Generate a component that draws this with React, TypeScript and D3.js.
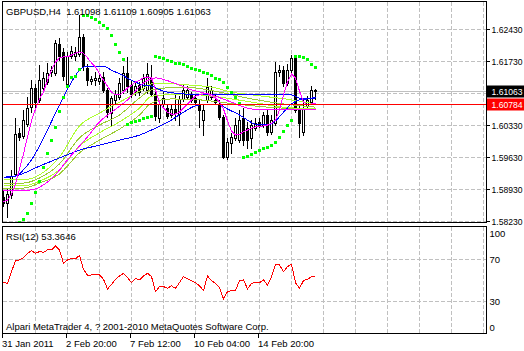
import React from "react"
import * as d3 from "d3"

// GBPUSD H4 candles
const opens = [
  1.5876, 1.5862, 1.5880, 1.5926, 1.6016, 1.6009, 1.6035, 1.6072, 1.6114, 1.6088,
  1.6114, 1.6127, 1.6149, 1.6147, 1.6210, 1.6193, 1.6123, 1.6184, 1.6184, 1.6188,
  1.6226, 1.6158, 1.6129, 1.6131, 1.6129, 1.6138, 1.6110, 1.6059, 1.6088, 1.6094,
  1.6110, 1.6147, 1.6120, 1.6105, 1.6120, 1.6114, 1.6110, 1.6136, 1.6101, 1.6048,
  1.6079, 1.6070, 1.6055, 1.6068, 1.6057, 1.6090, 1.6094, 1.6099, 1.6092, 1.6079,
  1.6044, 1.6088, 1.6094, 1.6088, 1.6077, 1.6050, 1.5963, 1.5994, 1.6005, 1.6000,
  1.6048, 1.6026, 1.6005, 1.6026, 1.6040, 1.6033, 1.6055, 1.6018, 1.6037, 1.6149,
  1.6153, 1.6125, 1.6153, 1.6180, 1.6066, 1.6018, 1.6075, 1.6083, 1.61098,
]
const highs = [
  1.5891, 1.5895, 1.5935, 1.6048, 1.6026, 1.6066, 1.6094, 1.6131, 1.6123, 1.6164,
  1.6149, 1.6169, 1.6162, 1.6219, 1.6223, 1.6201, 1.6193, 1.6206, 1.6204, 1.6273,
  1.6232, 1.6166, 1.6140, 1.6149, 1.6142, 1.6149, 1.6114, 1.6096, 1.6110, 1.6136,
  1.6162, 1.6182, 1.6131, 1.6127, 1.6127, 1.6145, 1.6169, 1.6164, 1.6110, 1.6088,
  1.6105, 1.6079, 1.6077, 1.6103, 1.6096, 1.6120, 1.6118, 1.6105, 1.6099, 1.6088,
  1.6077, 1.6136, 1.6118, 1.6099, 1.6088, 1.6055, 1.6005, 1.6016, 1.6048, 1.6066,
  1.6070, 1.6040, 1.6044, 1.6048, 1.6048, 1.6061, 1.6066, 1.6055, 1.6171, 1.6164,
  1.6162, 1.6166, 1.6186, 1.6186, 1.6077, 1.6088, 1.6096, 1.6118, 1.61109,
]
const lows = [
  1.5856, 1.5832, 1.5873, 1.5921, 1.6000, 1.6005, 1.6031, 1.6061, 1.6072, 1.6083,
  1.6105, 1.6123, 1.6140, 1.6142, 1.6175, 1.6131, 1.6116, 1.6180, 1.6175, 1.6184,
  1.6153, 1.6120, 1.6123, 1.6120, 1.6123, 1.6105, 1.6050, 1.6033, 1.6079, 1.6090,
  1.6103, 1.6105, 1.6094, 1.6099, 1.6099, 1.6110, 1.6103, 1.6096, 1.6044, 1.6040,
  1.6070, 1.6048, 1.6050, 1.6044, 1.6033, 1.6085, 1.6092, 1.6083, 1.6079, 1.6029,
  1.6011, 1.6083, 1.6090, 1.6081, 1.6046, 1.5961, 1.5959, 1.5972, 1.6000, 1.5996,
  1.5989, 1.5983, 1.5983, 1.6022, 1.6029, 1.6029, 1.6011, 1.6013, 1.6033, 1.6140,
  1.6118, 1.6120, 1.6149, 1.6061, 1.6007, 1.6011, 1.6070, 1.6079, 1.60905,
]
const closes = [
  1.5862, 1.5882, 1.5921, 1.6013, 1.6007, 1.6044, 1.6070, 1.6114, 1.6083, 1.6131,
  1.6136, 1.6147, 1.6153, 1.6212, 1.6184, 1.6140, 1.6184, 1.6195, 1.6193, 1.6226,
  1.6162, 1.6131, 1.6134, 1.6136, 1.6136, 1.6110, 1.6061, 1.6092, 1.6101, 1.6125,
  1.6147, 1.6118, 1.6101, 1.6118, 1.6105, 1.6136, 1.6145, 1.6101, 1.6053, 1.6079,
  1.6092, 1.6053, 1.6068, 1.6059, 1.6090, 1.6110, 1.6110, 1.6088, 1.6083, 1.6066,
  1.6066, 1.6116, 1.6110, 1.6083, 1.6050, 1.5963, 1.5996, 1.6007, 1.6033, 1.6044,
  1.6000, 1.6000, 1.6033, 1.6037, 1.6033, 1.6055, 1.6018, 1.6044, 1.6149, 1.6153,
  1.6125, 1.6153, 1.6180, 1.6066, 1.6037, 1.6070, 1.6088, 1.6110, 1.61063,
]

// parabolic SAR (null = not on screen)
const sar: (number | null)[] = [
  null, null, null, null, 1.5821, 1.5827, 1.5840, 1.5862, 1.5886, 1.5910,
  1.5941, 1.5972, 1.6000, 1.6029, 1.6064, 1.6094, 1.6118, 1.6138, 1.6140, 1.6156,
  1.6273, 1.6273, 1.6269, 1.6265, 1.6258, 1.6252, 1.6245, 1.6230, 1.6210, 1.6193,
  1.6177, 1.6035, 1.6040, 1.6042, 1.6044, 1.6048, 1.6050, 1.6053, 1.6184, 1.6182,
  1.6180, 1.6175, 1.6173, 1.6169, 1.6169, 1.6166, 1.6162, 1.6158, 1.6156, 1.6153,
  1.6149, 1.6147, 1.6142, 1.6136, 1.6134, 1.6127, 1.6116, 1.6105, 1.6094, 1.6081,
  1.5963, 1.5965, 1.5970, 1.5974, 1.5978, 1.5983, 1.5985, 1.5989, 1.5996, 1.6007,
  1.6020, 1.6033, 1.6044, 1.6184, 1.6184, 1.6182, 1.6177, 1.6166, 1.6160,
]

// fast magenta MA, one value per bar
const magentaFast = [
  1.5865, 1.5869, 1.5882, 1.5904, 1.5937, 1.5970, 1.6007, 1.6042, 1.6068, 1.6090,
  1.6105, 1.6131, 1.6153, 1.6171, 1.6180, 1.6182, 1.6182, 1.6186, 1.6190, 1.6193,
  1.6190, 1.6180, 1.6169, 1.6160, 1.6145, 1.6131, 1.6118, 1.6105, 1.6099, 1.6099,
  1.6105, 1.6114, 1.6120, 1.6127, 1.6131, 1.6136, 1.6138, 1.6136, 1.6110, 1.6081,
  1.6070, 1.6061, 1.6057, 1.6057, 1.6061, 1.6070, 1.6079, 1.6088, 1.6096, 1.6099,
  1.6101, 1.6101, 1.6096, 1.6092, 1.6083, 1.6068, 1.6042, 1.6020, 1.6011, 1.6013,
  1.6018, 1.6022, 1.6026, 1.6029, 1.6029, 1.6031, 1.6033, 1.6037, 1.6044, 1.6066,
  1.6099, 1.6127, 1.6145, 1.6136, 1.6107, 1.6083, 1.6077, 1.6079, 1.6079,
]

// slower lines, sampled as [bar, price]
const magentaSlow: [number, number][] = [
  [0, 1.5889], [7, 1.5891], [10, 1.5902], [13, 1.5924], [16, 1.5957], [19, 1.5987],
  [21, 1.6007], [24, 1.6040], [27, 1.6061], [31, 1.6088], [35, 1.6125], [38, 1.6136],
  [42, 1.6127], [47, 1.6110], [52, 1.6099], [57, 1.6083], [62, 1.6068], [67, 1.6066],
  [72, 1.6068], [76, 1.6068], [78, 1.6066],
]
const blueMid: [number, number][] = [
  [0, 1.5919], [3, 1.5921], [5, 1.5935], [7, 1.5957], [9, 1.5987], [11, 1.6022],
  [13, 1.6059], [15, 1.6094], [17, 1.6127], [19, 1.6153], [21, 1.6162], [25, 1.6162],
  [27, 1.6153], [29, 1.6145], [32, 1.6131], [35, 1.6120], [37, 1.6118], [40, 1.6107],
  [45, 1.6101], [50, 1.6099], [60, 1.6099], [72, 1.6099], [74, 1.6092], [78, 1.6090],
]
const blueSlow: [number, number][] = [
  [0, 1.5917], [4, 1.5924], [9, 1.5943], [14, 1.5961], [19, 1.5978], [24, 1.5989],
  [29, 1.6000], [34, 1.6011], [37, 1.6022], [42, 1.6044], [45, 1.6061], [49, 1.6077],
  [54, 1.6077], [56, 1.6068], [59, 1.6055], [63, 1.6035], [66, 1.6033], [68, 1.6042],
  [70, 1.6061], [72, 1.6079], [74, 1.6088], [76, 1.6090], [78, 1.6094],
]
const lime1: [number, number][] = [
  [0, 1.5913], [5, 1.5913], [9, 1.5924], [14, 1.5963], [19, 1.6031], [24, 1.6059],
  [29, 1.6083], [34, 1.6107], [37, 1.6123], [42, 1.6123], [47, 1.6120], [52, 1.6116],
  [57, 1.6105], [62, 1.6099], [72, 1.6088], [78, 1.6079],
]
const lime2: [number, number][] = [
  [0, 1.5906], [5, 1.5906], [9, 1.5917], [14, 1.5948], [19, 1.6005], [24, 1.6033],
  [29, 1.6055], [34, 1.6092], [37, 1.6110], [45, 1.6116], [54, 1.6105], [62, 1.6090],
  [70, 1.6079], [78, 1.6072],
]
const lime3: [number, number][] = [
  [0, 1.5900], [5, 1.5900], [9, 1.5910], [14, 1.5935], [19, 1.5987], [24, 1.6016],
  [29, 1.6040], [34, 1.6070], [37, 1.6096], [45, 1.6101], [54, 1.6094], [62, 1.6083],
  [70, 1.6072], [78, 1.6068],
]
const lime4: [number, number][] = [
  [0, 1.5893], [5, 1.5895], [9, 1.5906], [14, 1.5926], [19, 1.5972], [24, 1.6000],
  [29, 1.6024], [34, 1.6055], [37, 1.6081], [42, 1.6090], [49, 1.6088], [58, 1.6079],
  [66, 1.6072], [74, 1.6068], [78, 1.6066],
]

// RSI(12)
const rsi = [
  47.9, 47.0, 58.2, 68.7, 69.4, 71.6, 75.8, 78.3, 75.8, 77.4,
  76.7, 79.0, 79.0, 82.8, 79.0, 66.2, 69.4, 71.0, 70.3, 73.8,
  60.4, 54.6, 55.0, 55.0, 55.0, 50.8, 41.6, 46.0, 50.8, 54.0,
  56.6, 52.4, 47.6, 51.8, 50.2, 54.0, 56.6, 53.4, 39.0, 43.8,
  43.8, 42.2, 44.5, 42.2, 47.6, 53.4, 51.5, 49.6, 47.6, 44.5,
  40.0, 54.0, 49.6, 47.0, 42.9, 32.0, 39.0, 40.0, 40.0, 49.6,
  50.2, 41.6, 47.0, 47.6, 47.6, 50.2, 45.4, 53.4, 64.6, 64.6,
  58.2, 63.0, 65.2, 47.6, 42.2, 49.6, 50.8, 53.4, 53.36,
]

const priceTicks = [1.5823, 1.5893, 1.5963, 1.6033, 1.6103, 1.6173, 1.6243]
const rsiTicks = [0, 30, 70, 100]
const rsiLevels = [30, 70]
const timeBars = [0, 16, 32, 48, 64]
const timeLabels = ["31 Jan 2011", "2 Feb 20:00", "7 Feb 12:00", "10 Feb 04:00", "14 Feb 20:00"]

const bidPrice = 1.61063
const hLinePrice = 1.60784
const title = "GBPUSD,H4  1.61098 1.61109 1.60905 1.61063"
const rsiTitle = "RSI(12) 53.3646"
const copyright = "Alpari MetaTrader 4, ? 2001-2010 MetaQuotes Software Corp."

const W = 524
const H = 351
const L = 2.5
const R = 486.5
const mainTop = 1.5
const mainBottom = 222.5
const rsiTop = 226.5
const rsiBottom = 333.5
const font = "'Liberation Sans', Arial, sans-serif"
const fs = 9.5

export default function App() {
  const x = d3.scaleLinear().domain([0, 120]).range([3, 483])
  const y = d3.scaleLinear().domain([1.5823, 1.6243]).range([221, 29])
  const yr = d3.scaleLinear().domain([0, 100]).range([332.3, 228])
  const px = (i: number) => Math.round(x(i))

  const smooth = d3.line<[number, number]>()
    .x(d => px(d[0]) + 0.5)
    .y(d => y(d[1]))
    .curve(d3.curveMonotoneX)
  const straight = d3.line<[number, number]>()
    .x(d => px(d[0]) + 0.5)
    .y(d => y(d[1]))
  const rsiLine = d3.line<number>()
    .x((_, i) => px(i) + 0.5)
    .y(d => yr(d))

  const gridBars = d3.range(8, 121, 8)
  const bidY = Math.round(y(bidPrice)) + 0.5
  const hY = Math.round(y(hLinePrice)) + 0.5

  const lineStyle = { fill: "none", strokeWidth: 1, shapeRendering: "crispEdges" as const }
  const priceLabel = { x: R + 5, fontSize: 8.6 }

  return (
    <svg width={W} height={H} style={{ position: "absolute", left: 0, top: 0, background: "#fff" }}
      fontFamily={font} fontSize={fs}>
      <defs>
        <clipPath id="mainClip">
          <rect x={L + 0.5} y={mainTop + 0.5} width={R - L - 1} height={mainBottom - mainTop - 1} />
        </clipPath>
        <clipPath id="rsiClip">
          <rect x={L + 0.5} y={rsiTop + 0.5} width={R - L - 1} height={rsiBottom - rsiTop - 1} />
        </clipPath>
      </defs>
      <rect width={W} height={H} fill="#fff" />

      {/* grid */}
      <g stroke="#c0c0c0" strokeDasharray="4,2" shapeRendering="crispEdges">
        {gridBars.map(b => (
          <g key={b}>
            <line x1={px(b) + 0.5} x2={px(b) + 0.5} y1={mainTop} y2={mainBottom} />
            <line x1={px(b) + 0.5} x2={px(b) + 0.5} y1={rsiTop} y2={rsiBottom} />
          </g>
        ))}
        {priceTicks.map(p => (
          <line key={p} x1={L} x2={R} y1={Math.round(y(p)) + 0.5} y2={Math.round(y(p)) + 0.5} />
        ))}
        {rsiLevels.map(v => (
          <line key={v} x1={L} x2={R} y1={Math.round(yr(v)) + 0.5} y2={Math.round(yr(v)) + 0.5} />
        ))}
      </g>

      <g clipPath="url(#mainClip)">
        <line x1={L} x2={R} y1={bidY} y2={bidY} stroke="#c0c0c0" shapeRendering="crispEdges" />

        {/* candles */}
        <g shapeRendering="crispEdges" stroke="#000">
          {closes.map((c, i) => {
            const cx = px(i)
            const o = opens[i]
            const top = Math.round(y(Math.max(o, c)))
            const bot = Math.round(y(Math.min(o, c)))
            return (
              <g key={i}>
                <line x1={cx + 0.5} x2={cx + 0.5} y1={Math.round(y(highs[i]))} y2={Math.round(y(lows[i])) + 1} />
                <rect x={cx - 0.5} y={top + 0.5} width={2} height={Math.max(bot - top, 0)}
                  fill={c >= o ? "#fff" : "#000"} />
              </g>
            )
          })}
        </g>

        {/* moving averages */}
        <path d={smooth(lime4) || ""} stroke="#9acd32" {...lineStyle} />
        <path d={smooth(lime3) || ""} stroke="#adff2f" {...lineStyle} />
        <path d={smooth(lime2) || ""} stroke="#9acd32" {...lineStyle} />
        <path d={smooth(lime1) || ""} stroke="#adff2f" {...lineStyle} />
        <path d={smooth(blueSlow) || ""} stroke="#0000ff" {...lineStyle} />
        <path d={smooth(blueMid) || ""} stroke="#0000ff" {...lineStyle} />
        <path d={smooth(magentaSlow) || ""} stroke="#ff00ff" {...lineStyle} />
        <path d={straight(magentaFast.map((v, i) => [i, v] as [number, number])) || ""} stroke="#ff00ff" {...lineStyle} />

        {/* parabolic SAR */}
        <g fill="#00ff00">
          {sar.map((v, i) => v === null ? null : (
            <rect key={i} x={px(i) - 1} y={Math.round(y(v)) - 1} width={3} height={3} />
          ))}
        </g>

        <line x1={L} x2={R} y1={hY} y2={hY} stroke="#ff0000" shapeRendering="crispEdges" />
      </g>

      {/* RSI */}
      <g clipPath="url(#rsiClip)">
        <path d={rsiLine(rsi) || ""} stroke="#ff0000" {...lineStyle} />
      </g>

      {/* frames */}
      <g fill="none" stroke="#000" shapeRendering="crispEdges">
        <rect x={L} y={mainTop} width={R - L} height={mainBottom - mainTop} />
        <rect x={L} y={rsiTop} width={R - L} height={rsiBottom - rsiTop} />
      </g>

      {/* price axis */}
      <g>
        {priceTicks.map(p => {
          const ty = Math.round(y(p)) + 0.5
          const hidden = Math.abs(ty - bidY) < 8 || Math.abs(ty - hY) < 8
          return (
            <g key={p}>
              <line x1={R} x2={R + 3} y1={ty} y2={ty} stroke="#000" shapeRendering="crispEdges" />
              {!hidden && <text {...priceLabel} y={ty} dominantBaseline="central" fill="#000">{p.toFixed(5)}</text>}
            </g>
          )
        })}
        <rect x={R + 0.5} y={bidY - 6} width={W - R} height={12} fill="#000" />
        <text {...priceLabel} y={bidY} dominantBaseline="central" fill="#fff">{bidPrice.toFixed(5)}</text>
        <rect x={R + 0.5} y={hY - 6} width={W - R} height={12} fill="#ff0000" />
        <text {...priceLabel} y={hY} dominantBaseline="central" fill="#fff">{hLinePrice.toFixed(5)}</text>
      </g>

      {/* RSI axis */}
      <g>
        {rsiTicks.map(v => {
          const ty = Math.min(Math.max(yr(v), rsiTop + 6.5), rsiBottom - 6.5)
          return (
            <text key={v} x={R + 3} y={ty} dominantBaseline="central" fill="#000">{v}</text>
          )
        })}
      </g>

      {/* time axis */}
      <g>
        {timeBars.map((b, k) => (
          <g key={b}>
            <line x1={px(b) - 0.5} x2={px(b) - 0.5} y1={rsiBottom} y2={rsiBottom + 4} stroke="#000" shapeRendering="crispEdges" />
            <text x={px(b) - 1} y={347} fill="#000">{timeLabels[k]}</text>
          </g>
        ))}
      </g>

      <text x={6} y={15} fill="#000" style={{ whiteSpace: "pre" }}>{title}</text>
      <text x={6} y={239.5} fill="#000">{rsiTitle}</text>
      <text x={6} y={329.5} fill="#000">{copyright}</text>
    </svg>
  )
}
